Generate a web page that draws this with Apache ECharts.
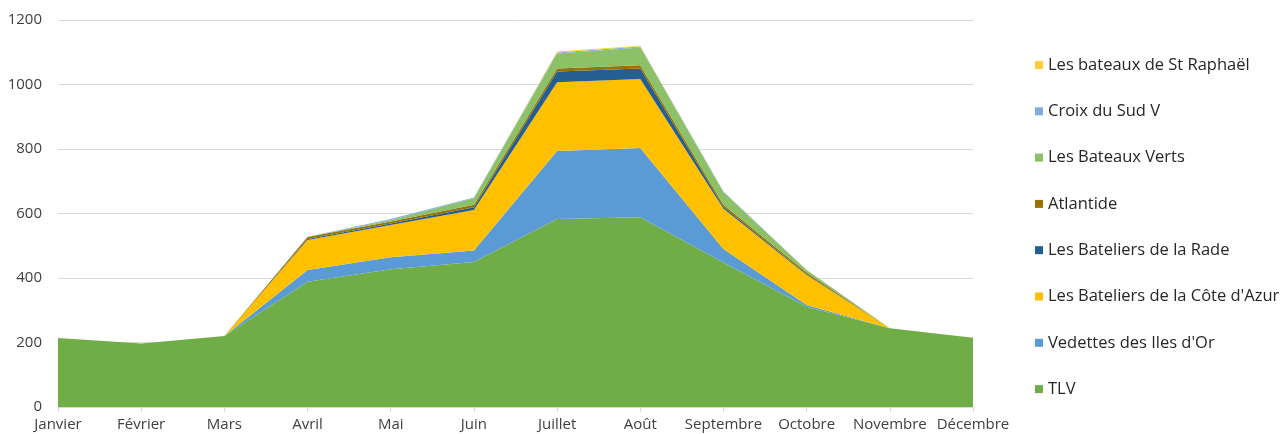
<!DOCTYPE html>
<html><head><meta charset="utf-8">
<script src="https://cdn.jsdelivr.net/npm/echarts@6/dist/echarts.min.js"></script>
<style>html,body{margin:0;padding:0;background:#fff}#c{width:1286px;height:434px}</style>
</head><body><div id="c"></div>
<script>
const months = ['Janvier','Février','Mars','Avril','Mai','Juin','Juillet','Août','Septembre','Octobre','Novembre','Décembre'];
const TLV        = [214,197,220,388,427,450,583,588,448,311,244,215];
const vedettes   = [0,0,0,37,37,35,211,215,42,5,0,0];
const coteAzur   = [0,0,0,93,100,126,213,214,125,93,0,0];
const rade       = [0,0,0,3,5,8,33,33,5,3,0,0];
const atlantide  = [0,0,0,6,6,8,10,10,7,5,0,0];
const bateauxVerts = [0,0,0,1,4,20,46,55,40,8,0,0];
const croixSud   = [0,0,0,0,4,3,3,3,1,0,0,0];
const stRaphael  = [0,0,0,0,0,0,3,2,0,0,0,0];
const yTicks = [0,200,400,600,800,1000,1200];

const seriesDefs = [
  ['TLV', TLV, '#70AD47'],
  ["Vedettes des Iles d'Or", vedettes, '#5B9BD5'],
  ["Les Bateliers de la Côte d'Azur", coteAzur, '#FFC000'],
  ['Les Bateliers de la Rade', rade, '#255E91'],
  ['Atlantide', atlantide, '#997300'],
  ['Les Bateaux Verts', bateauxVerts, '#8CC168'],
  ['Croix du Sud V', croixSud, '#7CAFDD'],
  ['Les bateaux de St Raphaël', stRaphael, '#FFCD33']
];

const chart = echarts.init(document.getElementById('c'));
chart.setOption({
  animation: false,
  grid: {left: 58, right: 313, top: 20, bottom: 27, containLabel: false},
  legend: {
    orient: 'vertical', left: 1030, top: 50,
    itemWidth: 8, itemHeight: 8, itemGap: 26.3, icon: 'rect',
    textStyle: {fontFamily: 'Open Sans', fontSize: 16.5, lineHeight: 20, color: '#262626'},
    data: seriesDefs.map(s => s[0]).reverse()
  },
  xAxis: {
    type: 'category', data: months, boundaryGap: false,
    axisLine: {lineStyle: {color: '#D9D9D9'}},
    axisTick: {show: true, alignWithLabel: true, length: 5, lineStyle: {color: '#D9D9D9'}},
    axisLabel: {fontFamily: 'Open Sans', fontSize: 15, color: '#404040', margin: 10, interval: 0}
  },
  yAxis: {
    type: 'value', min: 0, max: 1200, interval: 200,
    axisLine: {show: false}, axisTick: {show: false},
    splitLine: {lineStyle: {color: '#D9D9D9'}},
    axisLabel: {fontFamily: 'Open Sans', fontSize: 15, color: '#404040', margin: 16,
      formatter: v => yTicks.includes(v) ? String(v) : ''}
  },
  series: seriesDefs.map(([name, data, color]) => ({
    name, type: 'line', stack: 'total', data, symbol: 'none',
    lineStyle: {width: 0}, itemStyle: {color},
    areaStyle: {color, opacity: 1}
  }))
});
</script></body></html>
